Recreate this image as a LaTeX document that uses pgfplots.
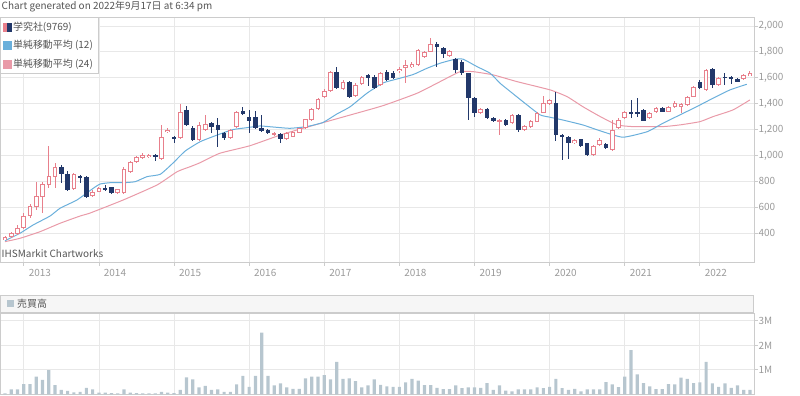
\documentclass[border=0pt]{standalone}
\usepackage{fontspec}
\setmainfont{Noto Sans CJK JP}
\usepackage{pgfplots}
\usepackage{pgfplotstable}
\pgfplotsset{compat=1.18}
\definecolor{upc}{HTML}{E8808C}
\definecolor{dnc}{HTML}{22386A}
\definecolor{mablue}{HTML}{6AAFDB}
\definecolor{mared}{HTML}{E99AA8}
\definecolor{volc}{HTML}{B7C6CF}
\definecolor{gridc}{HTML}{E8E8E8}
\definecolor{framec}{HTML}{CCCCCC}
\definecolor{labc}{HTML}{9A9A9A}
\definecolor{txtc}{HTML}{555555}
\definecolor{headc}{HTML}{F6F6F6}

% up candles: index open high low close
\pgfplotstableread{
i o h l c
0 350 375 345 368
1 370 412 362 400
2 394 464 385 438
3 438 554 430 533
4 533 626 520 610
5 600 798 580 688
6 682 798 559 778
7 773 1074 747 845
8 837 940 749 909
11 739 868 730 855
14 688 730 680 721
15 721 755 715 747
18 708 745 700 739
19 708 909 700 893
20 870 960 865 952
21 952 995 945 986
22 981 1020 975 1004
23 985 1015 978 1002
25 975 1236 965 1141
26 1180 1215 1170 1200
28 1133 1398 1125 1338
31 1120 1260 1115 1236
32 1197 1313 1190 1241
36 1138 1205 1130 1197
37 1223 1340 1215 1338
43 1160 1185 1150 1170
45 1125 1180 1118 1176
46 1145 1190 1140 1184
47 1176 1215 1170 1210
48 1210 1285 1205 1280
49 1274 1365 1270 1357
50 1357 1440 1350 1434
51 1454 1510 1445 1498
52 1498 1655 1490 1647
54 1511 1580 1505 1570
56 1460 1560 1455 1545
57 1552 1612 1545 1604
60 1545 1648 1540 1635
63 1650 1680 1640 1670
64 1676 1738 1557 1700
65 1681 1720 1675 1707
66 1699 1825 1690 1815
67 1763 1810 1755 1802
68 1802 1905 1795 1861
71 1768 1815 1760 1809
76 1326 1365 1320 1357
79 1261 1280 1158 1274
81 1249 1320 1240 1313
83 1197 1235 1190 1228
84 1218 1275 1212 1267
85 1261 1335 1255 1326
86 1331 1460 1325 1403
87 1396 1435 1390 1429
91 1094 1128 1088 1120
94 1004 1080 998 1074
95 1081 1135 1075 1120
97 1043 1274 1035 1197
98 1210 1290 1205 1274
99 1287 1345 1280 1338
103 1287 1335 1280 1326
104 1334 1375 1330 1369
106 1338 1385 1332 1377
107 1377 1420 1370 1403
108 1377 1405 1330 1398
109 1390 1460 1385 1450
110 1454 1540 1448 1531
112 1506 1670 1500 1660
114 1545 1605 1540 1596
118 1588 1630 1583 1622
119 1614 1650 1610 1635
}\tup

% down candles: index open high low close
\pgfplotstableread{
i o h l c
9 914 925 790 857
10 857 883 725 734
12 842 850 785 829
13 837 845 675 682
16 747 770 725 734
17 755 760 700 713
24 1000 1010 960 985
27 1145 1150 1100 1125
29 1352 1382 1230 1236
30 1215 1225 1110 1120
33 1249 1260 1172 1223
34 1236 1287 1068 1197
35 1172 1180 1120 1138
38 1344 1372 1315 1321
39 1295 1352 1176 1267
40 1295 1340 1205 1210
41 1210 1313 1185 1192
42 1197 1205 1165 1176
44 1166 1172 1094 1127
53 1647 1686 1510 1519
55 1570 1578 1445 1454
58 1620 1630 1540 1600
59 1609 1620 1510 1519
61 1643 1660 1575 1583
62 1635 1650 1590 1600
69 1861 1875 1686 1840
70 1828 1835 1750 1784
72 1745 1750 1640 1660
73 1724 1735 1625 1640
74 1635 1640 1274 1442
75 1442 1450 1300 1326
77 1357 1365 1280 1287
78 1287 1295 1260 1269
80 1274 1285 1230 1236
82 1313 1320 1180 1197
88 1403 1493 1110 1158
89 1158 1165 966 1145
90 1145 1150 971 1094
92 1125 1130 1068 1074
93 1094 1100 998 1004
96 1087 1093 1050 1056
100 1338 1429 1290 1321
101 1338 1440 1295 1321
102 1352 1360 1265 1269
105 1365 1372 1332 1338
111 1570 1580 1510 1519
113 1666 1672 1520 1545
115 1609 1640 1545 1596
116 1609 1615 1550 1588
117 1588 1595 1565 1570
}\tdn

% 12-month simple moving average
\pgfplotstableread{
i v
0 342
2.4 400
4.5 464
7.2 533
8.8 593
11.5 657
14.1 747
15.2 780
16.8 790
18.9 790
20.8 798
22.7 837
24.8 855
26.8 940
28.8 1035
31.2 1107
33.9 1158
36.4 1200
38.7 1215
40.7 1228
42.8 1220
45.5 1210
48.2 1223
50.8 1255
53.0 1320
55.1 1375
57.8 1480
60.4 1560
62.6 1590
65.2 1625
67.4 1673
69.5 1712
71.9 1743
73.2 1743
75.4 1686
77.5 1635
79.1 1557
80.4 1506
83.4 1390
85.5 1313
87.1 1295
89.1 1274
92.3 1236
95.1 1190
98.7 1141
102.6 1184
105.1 1249
107.8 1313
110.5 1377
113.1 1442
115.8 1506
118.5 1550
}\tmaA

% 24-month simple moving average
\pgfplotstableread{
i v
0 335
2.4 361
5.6 412
8.8 477
12.0 533
13.6 556
18.9 657
24.3 773
27.5 875
29.6 914
31.2 945
34.3 1017
39.1 1075
44.4 1165
49.8 1240
55.1 1312
60.4 1385
65.8 1480
69.5 1570
72.7 1647
74.8 1647
78.0 1622
81.8 1570
87.1 1506
89.8 1454
92.3 1377
95.1 1300
97.8 1236
100.3 1223
105.1 1223
107.8 1236
111.0 1261
113.1 1300
116.3 1352
119.0 1429
}\tmaB

% monthly trading volume (millions of shares)
\pgfplotstableread{
i v
0 0.04
1 0.2
2 0.2
3 0.42
4 0.42
5 0.72
6 0.59
7 0.99
8 0.38
9 0.18
10 0.14
11 0.08
12 0.1
13 0.27
14 0.2
15 0.07
16 0.07
17 0.05
18 0.04
19 0.2
20 0.07
21 0.05
22 0.04
23 0.04
24 0.04
25 0.1
26 0.07
27 0.05
28 0.18
29 0.69
30 0.61
31 0.29
32 0.35
33 0.18
34 0.2
35 0.1
36 0.1
37 0.41
38 0.76
39 0.31
40 0.76
41 2.52
42 0.76
43 0.37
44 0.45
45 0.29
46 0.23
47 0.23
48 0.65
49 0.72
50 0.72
51 0.79
52 0.61
53 1.33
54 0.63
55 0.65
56 0.54
57 0.29
58 0.37
59 0.61
60 0.39
61 0.33
62 0.31
63 0.31
64 0.49
65 0.63
66 0.56
67 0.38
68 0.38
69 0.27
70 0.22
71 0.22
72 0.37
73 0.26
74 0.29
75 0.29
76 0.27
77 0.46
78 0.18
79 0.37
80 0.15
81 0.12
82 0.2
83 0.2
84 0.2
85 0.29
86 0.26
87 0.31
88 0.63
89 0.26
90 0.18
91 0.23
92 0.12
93 0.2
94 0.2
95 0.2
96 0.5
97 0.41
98 0.3
99 0.72
100 1.81
101 0.82
102 0.46
103 0.33
104 0.22
105 0.22
106 0.42
107 0.41
108 0.68
109 0.63
110 0.46
111 0.49
112 1.33
113 0.45
114 0.31
115 0.45
116 0.27
117 0.37
118 0.18
119 0.18
}\tvol

\pgfplotsset{
  basechart/.style={
    scale only axis, width=754bp, anchor=south west,
    xmin=-0.8, xmax=119.65,
    axis line style={draw=framec, line width=0.8bp},
    xtick={3,15,27,39,51,63,75,87,99,111},
    xmajorgrids, ymajorgrids,
    grid style={draw=gridc, line width=0.8bp},
    tick align=outside, major tick length=4bp,
    tick style={draw=framec, line width=0.8bp},
    xtick pos=bottom, ytick pos=right, yticklabel pos=right,
    ticklabel style={font=\fontsize{10}{12}\selectfont, text=labc},
    /pgf/number format/1000 sep={,},
    /pgf/number format/assume math mode=true,
  },
  candle/.style={forget plot, draw=none, mark=none,
    error bars/.cd, y dir=both, y explicit, error mark=none},
}

\begin{document}
\begin{tikzpicture}
\useasboundingbox (0,0) rectangle (800bp,396bp);

\begin{axis}[basechart,
  at={(0,134bp)}, height=245bp,
  ymin=178, ymax=2069,
  ytick={400,600,...,2000},
  xticklabels={2013,2014,2015,2016,2017,2018,2019,2020,2021,2022},
  x tick label style={anchor=north west, xshift=1.5bp},
  y tick label style={anchor=west, xshift=-3bp},
  legend style={at={(0,1)}, anchor=north west, yshift=-0.5bp,
    draw=framec, fill=white, text=txtc,
    font=\fontsize{10}{12}\selectfont,
    inner xsep=3bp, inner ysep=2.5bp, row sep=4.5bp,
    /tikz/every even column/.append style={column sep=1bp}},
  legend cell align=left,
]
\addlegendimage{legend image code/.code={
  \fill[upc] (0bp,-4bp) rectangle (3.5bp,4bp);
  \fill[dnc] (3.5bp,-4bp) rectangle (7.5bp,4bp);}}
\addlegendentry{学究社(9769)}
\addlegendimage{legend image code/.code={
  \fill[mablue] (0bp,-4bp) rectangle (7.5bp,4bp);}}
\addlegendentry{単純移動平均 (12)}
\addlegendimage{legend image code/.code={
  \fill[mared] (0bp,-4bp) rectangle (7.5bp,4bp);}}
\addlegendentry{単純移動平均 (24)}

\addplot[forget plot, mared, line width=1bp, smooth, tension=0.3] table[x=i,y=v]{\tmaB};
\addplot[forget plot, mablue, line width=1bp, smooth, tension=0.3] table[x=i,y=v]{\tmaA};

% wicks
\addplot[candle, error bar style={draw=dnc, line width=1bp}]
  table[x=i, y expr={(\thisrow{h}+\thisrow{l})/2},
        y error expr={(\thisrow{h}-\thisrow{l})/2}]{\tdn};
\addplot[candle, error bar style={draw=upc, line width=1bp}]
  table[x=i, y expr={(\thisrow{h}+\thisrow{l})/2},
        y error expr={(\thisrow{h}-\thisrow{l})/2}]{\tup};
% bodies
\addplot[candle, error bar style={draw=dnc, line width=4.6bp}]
  table[x=i, y expr={(\thisrow{o}+\thisrow{c})/2},
        y error expr={max((\thisrow{o}-\thisrow{c})/2,4)}]{\tdn};
\addplot[candle, error bar style={draw=upc, line width=4.6bp}]
  table[x=i, y expr={(\thisrow{o}+\thisrow{c})/2},
        y error expr={max((\thisrow{c}-\thisrow{o})/2,4)}]{\tup};
\addplot[candle, error bar style={draw=white, line width=2.6bp}]
  table[x=i, y expr={(\thisrow{o}+\thisrow{c})/2},
        y error expr={max((\thisrow{c}-\thisrow{o})/2-7.7,0)}]{\tup};
\end{axis}

\begin{axis}[basechart,
  at={(0,1.6bp)}, height=81.4bp,
  ymin=0, ymax=3.32,
  ytick={1,2,3}, yticklabels={1M,2M,3M},
  xticklabels={}, x tick style={draw=none},
  y tick label style={anchor=west, xshift=-3bp},
]
\addplot[ybar, bar width=3.2bp, fill=volc, draw=none] table[x=i,y=v]{\tvol};
\end{axis}

\draw[framec, line width=0.8bp, fill=headc] (0,83.2bp) rectangle (753.6bp,101bp);
\fill[volc] (6.5bp,88.5bp) rectangle (13.5bp,95.5bp);
\node[anchor=west, inner sep=0pt, text=txtc, font=\fontsize{10}{12}\selectfont] at (17bp,92bp) {売買高};

\node[anchor=base west, inner sep=0pt, text=txtc, font=\fontsize{10}{12}\selectfont] at (1.5bp,386.5bp) {Chart generated on 2022年9月17日 at 6:34 pm};
\node[anchor=base west, inner sep=0pt, text=txtc, font=\fontsize{10}{12}\selectfont] at (1.5bp,138bp) {IHSMarkit Chartworks};
\end{tikzpicture}
\end{document}
